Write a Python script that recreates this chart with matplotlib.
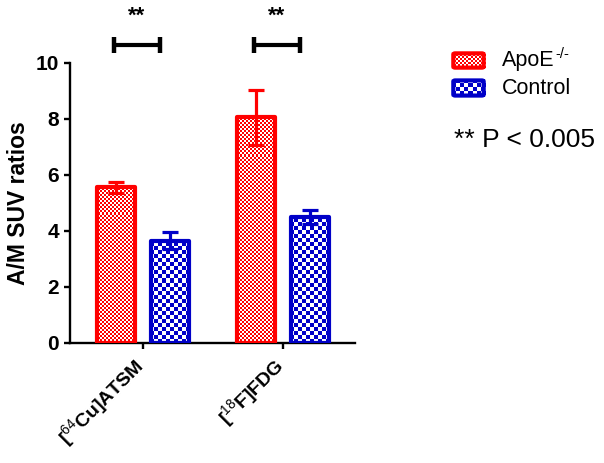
import numpy as np
import matplotlib
matplotlib.use("Agg")
import matplotlib.pyplot as plt
import matplotlib.transforms as mtransforms
from matplotlib.colors import ListedColormap
from matplotlib.patches import FancyBboxPatch

plt.rcParams['font.family'] = ['Liberation Sans', 'DejaVu Sans']
plt.rcParams['mathtext.fontset'] = 'custom'
plt.rcParams['mathtext.rm'] = 'Liberation Sans'
plt.rcParams['mathtext.bf'] = 'Liberation Sans:bold'

tracers = [r'[$^{64}$Cu]ATSM', r'[$^{18}$F]FDG']
groups = [('ApoE', '-/-'), ('Control', '')]
apoe_mean = [5.55, 8.05]
apoe_sem = [0.2, 0.97]
ctrl_mean = [3.65, 4.5]
ctrl_sem = [0.3, 0.25]
sig_text = '**'
p_note = '** P < 0.005'

red = '#FF0000'
blue = '#0000C8'

W, H = 604, 463
fig = plt.figure(figsize=(W / 100, H / 100), dpi=100)
ax_l, ax_b, ax_r, ax_t = 70, 343, 355, 62.7
ax = fig.add_axes([ax_l / W, 1 - ax_b / H, (ax_r - ax_l) / W, (ax_b - ax_t) / H])

xlim = (-0.521, 1.514)
ylim = (0, 10)
npx_w = int(ax_r - ax_l)
npx_h = int(ax_b - ax_t)


def checker(cell):
    yy, xx = np.mgrid[0:npx_h, 0:npx_w]
    return ((yy // cell + xx // cell) % 2).astype(float)


x = np.arange(len(tracers))
width = 0.27
off = 0.193

series = [(apoe_mean, apoe_sem, red, 2, -off), (ctrl_mean, ctrl_sem, blue, 4, off)]
for means, sems, col, cell, dx in series:
    bars = ax.bar(x + dx, means, width, facecolor='none', edgecolor=col,
                  linewidth=3, zorder=3)
    for b in bars:
        b.set_joinstyle('round')
        im = ax.imshow(checker(cell), extent=(*xlim, *ylim), aspect='auto',
                       cmap=ListedColormap(['white', col]), interpolation='nearest',
                       zorder=2, vmin=0, vmax=1)
        im.set_clip_path(b)
    ax.errorbar(x + dx, means, yerr=sems, fmt='none', ecolor=col,
                elinewidth=2.3, capsize=6, capthick=2.3, zorder=4)

ax.set_xlim(*xlim)
ax.set_ylim(*ylim)

# significance brackets
for xi in x:
    c = xi - 0.045
    ax.plot([c - 0.165, c + 0.165], [10.63, 10.63], color='black', lw=3,
            clip_on=False, solid_capstyle='butt')
    for e in (c - 0.165, c + 0.165):
        ax.plot([e, e], [10.35, 10.91], color='black', lw=3.2, clip_on=False,
                solid_capstyle='butt')
    ax.text(c, 11.65, sig_text, ha='center', va='center', fontsize=16,
            fontweight='bold', clip_on=False)

for s in ('top', 'right'):
    ax.spines[s].set_visible(False)
for s in ('left', 'bottom'):
    ax.spines[s].set_linewidth(1.7)
ax.tick_params(width=1.7, length=4.5)
ax.tick_params(axis='y', labelsize=15)
ax.tick_params(axis='x', labelsize=14)
ax.set_yticks([0, 2, 4, 6, 8, 10])
ax.set_xticks(x)
ax.set_xticklabels(tracers, rotation=45, ha='right', fontweight='bold')
shift = mtransforms.ScaledTranslation(7 / 100, 0, fig.dpi_scale_trans)
for lab in ax.get_xticklabels():
    lab.set_transform(lab.get_transform() + shift)
for lab in ax.get_yticklabels():
    lab.set_fontweight('bold')
ax.set_ylabel('A/M SUV ratios', fontsize=16.5, fontweight='bold', labelpad=4)

# legend
renderer = fig.canvas.get_renderer()
sw = [(52, 69, red, 2), (79, 97, blue, 4)]
for (y0, y1, col, cell), (name, sup) in zip(sw, groups):
    sax = fig.add_axes([452 / W, 1 - y1 / H, 33 / W, (y1 - y0) / H])
    sax.set_axis_off()
    yy, xx = np.mgrid[0:int(y1 - y0), 0:33]
    sax.imshow(((yy // cell + xx // cell) % 2).astype(float), aspect='auto',
               cmap=ListedColormap(['white', col]), interpolation='nearest',
               extent=(0, 1, 0, 1), vmin=0, vmax=1)
    sax.set_xlim(0, 1)
    sax.set_ylim(0, 1)
    sax.add_patch(FancyBboxPatch((0.04, 0.08), 0.92, 0.84,
                                 boxstyle='round,pad=0,rounding_size=0.06',
                                 facecolor='none', edgecolor=col, lw=3,
                                 transform=sax.transAxes, clip_on=False))
    t = fig.text(502 / W, 1 - (y0 + y1) / 2 / H, name, fontsize=15.5,
                 ha='left', va='center')
    if sup:
        bb = t.get_window_extent(renderer)
        fig.text((bb.x1 + 1) / W, (bb.y1 + 3) / H, sup, fontsize=10.5,
                 ha='left', va='top')

fig.text(454 / W, 1 - 140 / H, p_note, fontsize=19, ha='left', va='center')

fig.savefig('out.png', dpi=100)
